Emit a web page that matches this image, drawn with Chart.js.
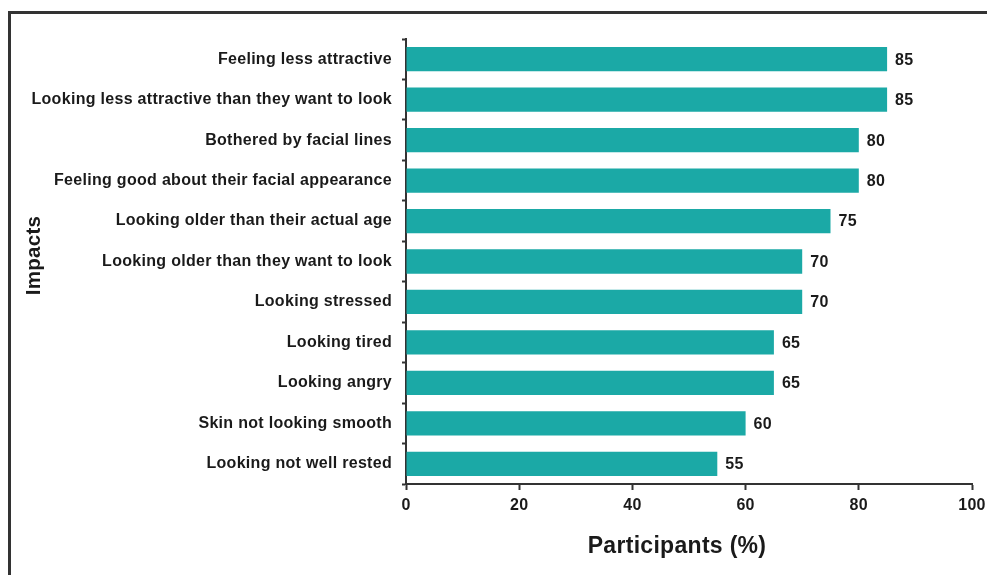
<!DOCTYPE html>
<html>
<head>
<meta charset="utf-8">
<script src="https://cdn.jsdelivr.net/npm/chart.js@4/dist/chart.umd.min.js"></script>
<style>
  html, body { margin: 0; padding: 0; background: #fff; }
  #wrap { position: relative; width: 987px; height: 575px; overflow: hidden; }
  #frame { position: absolute; left: 8px; top: 11px; width: 1000px; height: 600px;
           border-left: 3px solid #333; border-top: 3px solid #333; }
  #bar-chart { position: absolute; left: 0; top: 0; }
</style>
</head>
<body>
<div id="wrap">
  <div id="frame"></div>
  <canvas id="bar-chart" width="1010" height="575"></canvas>
</div>
<script>
// impacts, top to bottom
const impacts = [
  "Feeling less attractive",
  "Looking less attractive than they want to look",
  "Bothered by facial lines",
  "Feeling good about their facial appearance",
  "Looking older than their actual age",
  "Looking older than they want to look",
  "Looking stressed",
  "Looking tired",
  "Looking angry",
  "Skin not looking smooth",
  "Looking not well rested"
];
const participants = [85, 85, 80, 80, 75, 70, 70, 65, 65, 60, 55];
const xTicks = [0, 20, 40, 60, 80, 100];
const xTitle = "Participants (%)";
const yTitle = "Impacts";

const FONT = "'Liberation Sans', Arial, sans-serif";
const INK = "#1a1a1a";
const SPACING = "0.3px";

// the original lettering is a little wider than Arial bold
const spacing = {
  id: "spacing",
  beforeUpdate(chart) { chart.ctx.letterSpacing = SPACING; },
  beforeDraw(chart) { chart.ctx.letterSpacing = SPACING; }
};

// value labels at the end of each bar
const valueLabels = {
  id: "valueLabels",
  afterDatasetsDraw(chart) {
    const ctx = chart.ctx;
    const meta = chart.getDatasetMeta(0);
    ctx.save();
    ctx.font = "bold 16px " + FONT;
    ctx.fillStyle = INK;
    ctx.textAlign = "left";
    ctx.textBaseline = "middle";
    meta.data.forEach((bar, i) => {
      ctx.fillText(String(participants[i]), bar.x + 8, bar.y + 1);
    });
    ctx.restore();
  }
};

// axis titles sit a bit off-centre in the original
const axisTitles = {
  id: "axisTitles",
  afterDraw(chart) {
    const ctx = chart.ctx;
    const area = chart.chartArea;
    ctx.save();
    ctx.fillStyle = INK;
    ctx.textAlign = "center";
    ctx.textBaseline = "middle";
    ctx.font = "bold 23px " + FONT;
    ctx.fillText(xTitle, (area.left + area.right) / 2 - 12, 547);
    ctx.translate(34, (area.top + area.bottom) / 2 - 6);
    ctx.rotate(-Math.PI / 2);
    ctx.font = "bold 20.5px " + FONT;
    ctx.fillText(yTitle, 0, 0);
    ctx.restore();
  }
};

new Chart(document.getElementById("bar-chart"), {
  type: "bar",
  data: {
    labels: impacts,
    datasets: [{
      data: participants,
      backgroundColor: "#1ba9a6",
      borderWidth: 0,
      barPercentage: 0.6,
      categoryPercentage: 1.0
    }]
  },
  options: {
    indexAxis: "y",
    responsive: false,
    animation: false,
    devicePixelRatio: 1,
    layout: { padding: { top: 39, right: 38, bottom: 0, left: 0 } },
    plugins: {
      legend: { display: false },
      tooltip: { enabled: false }
    },
    scales: {
      x: {
        min: 0,
        max: 100,
        afterBuildTicks: s => { s.ticks = xTicks.map(v => ({ value: v })); },
        afterFit: s => { s.height = 91; },
        border: { color: "#333", width: 2 },
        grid: { drawOnChartArea: false, tickLength: 6, tickColor: "#333", tickWidth: 2 },
        ticks: {
          padding: 6,
          color: INK,
          font: { family: FONT, size: 16, weight: "bold" }
        }
      },
      y: {
        afterFit: s => { s.width = 406; },
        border: { color: "#333", width: 2 },
        grid: { drawOnChartArea: false, offset: true, tickLength: 4, tickColor: "#333", tickWidth: 2 },
        ticks: {
          autoSkip: false,
          padding: 10,
          color: INK,
          font: { family: FONT, size: 16, weight: "bold" }
        }
      }
    }
  },
  plugins: [spacing, valueLabels, axisTitles]
});
</script>
</body>
</html>
